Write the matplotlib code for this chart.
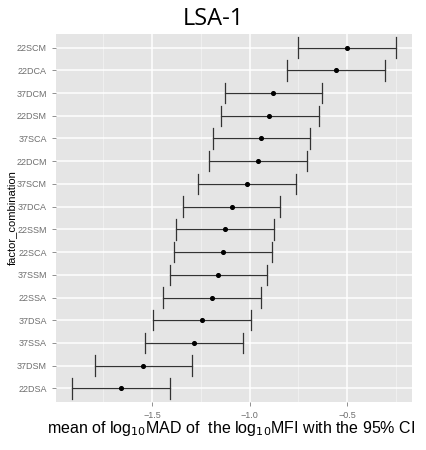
import numpy as np
import matplotlib.pyplot as plt

plt.rcParams['font.family'] = ['Liberation Sans', 'DejaVu Sans']

# factor combinations, top to bottom as drawn
combos = ['22SCM', '22DCA', '37DCM', '22DSM', '37SCA', '22DCM', '37SCM', '37DCA',
          '22SSM', '22SCA', '37SSM', '22SSA', '37DSA', '37SSA', '37DSM', '22DSA']
mean_val = [-0.500, -0.556, -0.878, -0.898, -0.939, -0.956, -1.013, -1.091,
            -1.126, -1.136, -1.162, -1.192, -1.244, -1.286, -1.544, -1.661]
ci_low = [-0.750, -0.808, -1.127, -1.146, -1.189, -1.208, -1.262, -1.343,
          -1.375, -1.386, -1.409, -1.442, -1.493, -1.536, -1.794, -1.912]
ci_high = [-0.249, -0.307, -0.627, -0.645, -0.688, -0.705, -0.762, -0.842,
           -0.873, -0.885, -0.910, -0.941, -0.993, -1.035, -1.293, -1.409]

fig = plt.figure(figsize=(4.27, 4.5), dpi=100)
ax = fig.add_axes([56/427, 1 - 402/450, (412 - 56)/427, (402 - 34)/450])
ax.set_facecolor('#E5E5E5')

n = len(combos)
ypos = np.arange(n)[::-1] + 1  # first combo at the top

# minor/major grid like ggplot
for xm in [-1.75, -1.25, -0.75, -0.25]:
    ax.axvline(xm, color='#F2F2F2', lw=0.6, zorder=0)
for xM in [-1.5, -1.0, -0.5]:
    ax.axvline(xM, color='white', lw=1.1, zorder=0)
for y in ypos:
    ax.axhline(y, color='white', lw=1.1, zorder=0)

cap = 0.45
for y, lo, hi in zip(ypos, ci_low, ci_high):
    ax.plot([lo, hi], [y, y], color='#333333', lw=0.9, zorder=2)
    ax.plot([lo, lo], [y - cap, y + cap], color='#333333', lw=0.9, zorder=2)
    ax.plot([hi, hi], [y - cap, y + cap], color='#333333', lw=0.9, zorder=2)
ax.scatter(mean_val, ypos, s=7, color='black', zorder=3)

ax.set_xlim(-1.992, -0.167)
ax.set_ylim(0.4, n + 0.6)
ax.set_yticks(ypos)
ax.set_yticklabels(combos)
ax.set_xticks([-1.5, -1.0, -0.5])
ax.set_xticklabels(['\u22121.5', '\u22121.0', '\u22120.5'])
ax.tick_params(axis='both', colors='#7F7F7F', labelsize=6.5, length=3, width=0.6,
               labelcolor='#6E6E6E')
for s in ax.spines.values():
    s.set_visible(False)

ax.set_ylabel('factor_combination', fontsize=8)
ax.yaxis.set_label_coords(-39/356, 0.5)
fig.text(231/427, 1 - 428/450,
         'mean of log$_{10}$MAD of  the log$_{10}$MFI with the 95% CI',
         ha='center', va='center', fontsize=11.5)
fig.text(0.5, 1 - 19/450, 'LSA-1', ha='center', va='center', fontsize=17,
         family='Open Sans')

fig.savefig('out.png', dpi=100)
